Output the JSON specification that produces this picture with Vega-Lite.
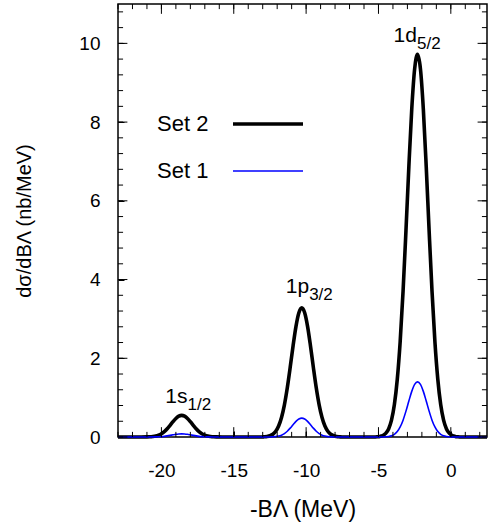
{
  "$schema": "https://vega.github.io/schema/vega-lite/v6.json",
  "width": 369,
  "height": 433,
  "autosize": "none",
  "padding": {"left": 118, "top": 4, "right": 1, "bottom": 89},
  "background": "white",
  "config": {
    "view": {"stroke": "black", "strokeWidth": 1.5},
    "font": "Liberation Sans",
    "axis": {"labelFont": "Liberation Sans", "titleFont": "Liberation Sans", "labelColor": "black", "titleColor": "black", "labelFontSize": 19, "titleFontSize": 20, "titleFontWeight": "normal", "grid": false},
    "legend": {"labelFont": "Liberation Sans", "labelFontSize": 22, "labelColor": "black"}
  },
  "datasets": {
    "curves": [
      {"x": -23, "y": 0, "s": "Set 2"}, {"x": -21.4, "y": 0, "s": "Set 2"},
      {"x": -21.0, "y": 0.002, "s": "Set 2"}, {"x": -20.8, "y": 0.005, "s": "Set 2"}, {"x": -20.6, "y": 0.012, "s": "Set 2"}, {"x": -20.4, "y": 0.024, "s": "Set 2"}, {"x": -20.2, "y": 0.047, "s": "Set 2"}, {"x": -20.0, "y": 0.083, "s": "Set 2"}, {"x": -19.8, "y": 0.137, "s": "Set 2"}, {"x": -19.6, "y": 0.21, "s": "Set 2"}, {"x": -19.4, "y": 0.297, "s": "Set 2"}, {"x": -19.2, "y": 0.389, "s": "Set 2"}, {"x": -19.0, "y": 0.471, "s": "Set 2"}, {"x": -18.8, "y": 0.529, "s": "Set 2"}, {"x": -18.6, "y": 0.55, "s": "Set 2"}, {"x": -18.4, "y": 0.529, "s": "Set 2"}, {"x": -18.2, "y": 0.471, "s": "Set 2"}, {"x": -18.0, "y": 0.389, "s": "Set 2"}, {"x": -17.8, "y": 0.297, "s": "Set 2"}, {"x": -17.6, "y": 0.21, "s": "Set 2"}, {"x": -17.4, "y": 0.137, "s": "Set 2"}, {"x": -17.2, "y": 0.083, "s": "Set 2"}, {"x": -17.0, "y": 0.047, "s": "Set 2"}, {"x": -16.8, "y": 0.024, "s": "Set 2"}, {"x": -16.6, "y": 0.012, "s": "Set 2"}, {"x": -16.4, "y": 0.005, "s": "Set 2"}, {"x": -16.2, "y": 0.002, "s": "Set 2"}, {"x": -15.8, "y": 0, "s": "Set 2"},
      {"x": -13.1, "y": 0, "s": "Set 2"}, {"x": -12.9, "y": 0.005, "s": "Set 2"}, {"x": -12.7, "y": 0.013, "s": "Set 2"}, {"x": -12.5, "y": 0.031, "s": "Set 2"}, {"x": -12.3, "y": 0.069, "s": "Set 2"}, {"x": -12.1, "y": 0.144, "s": "Set 2"}, {"x": -11.9, "y": 0.278, "s": "Set 2"}, {"x": -11.7, "y": 0.495, "s": "Set 2"}, {"x": -11.5, "y": 0.818, "s": "Set 2"}, {"x": -11.3, "y": 1.25, "s": "Set 2"}, {"x": -11.1, "y": 1.769, "s": "Set 2"}, {"x": -10.9, "y": 2.318, "s": "Set 2"}, {"x": -10.7, "y": 2.811, "s": "Set 2"}, {"x": -10.5, "y": 3.156, "s": "Set 2"}, {"x": -10.3, "y": 3.28, "s": "Set 2"}, {"x": -10.1, "y": 3.156, "s": "Set 2"}, {"x": -9.9, "y": 2.811, "s": "Set 2"}, {"x": -9.7, "y": 2.318, "s": "Set 2"}, {"x": -9.5, "y": 1.769, "s": "Set 2"}, {"x": -9.3, "y": 1.25, "s": "Set 2"}, {"x": -9.1, "y": 0.818, "s": "Set 2"}, {"x": -8.9, "y": 0.495, "s": "Set 2"}, {"x": -8.7, "y": 0.278, "s": "Set 2"}, {"x": -8.5, "y": 0.144, "s": "Set 2"}, {"x": -8.3, "y": 0.069, "s": "Set 2"}, {"x": -8.1, "y": 0.031, "s": "Set 2"}, {"x": -7.9, "y": 0.013, "s": "Set 2"}, {"x": -7.7, "y": 0.005, "s": "Set 2"}, {"x": -7.5, "y": 0, "s": "Set 2"},
      {"x": -5.3, "y": 0, "s": "Set 2"}, {"x": -5.1, "y": 0.005, "s": "Set 2"}, {"x": -4.9, "y": 0.015, "s": "Set 2"}, {"x": -4.7, "y": 0.038, "s": "Set 2"}, {"x": -4.5, "y": 0.091, "s": "Set 2"}, {"x": -4.3, "y": 0.205, "s": "Set 2"}, {"x": -4.1, "y": 0.427, "s": "Set 2"}, {"x": -3.9, "y": 0.823, "s": "Set 2"}, {"x": -3.7, "y": 1.468, "s": "Set 2"}, {"x": -3.5, "y": 2.424, "s": "Set 2"}, {"x": -3.3, "y": 3.705, "s": "Set 2"}, {"x": -3.1, "y": 5.243, "s": "Set 2"}, {"x": -2.9, "y": 6.869, "s": "Set 2"}, {"x": -2.7, "y": 8.33, "s": "Set 2"}, {"x": -2.5, "y": 9.352, "s": "Set 2"}, {"x": -2.3, "y": 9.72, "s": "Set 2"}, {"x": -2.1, "y": 9.352, "s": "Set 2"}, {"x": -1.9, "y": 8.33, "s": "Set 2"}, {"x": -1.7, "y": 6.869, "s": "Set 2"}, {"x": -1.5, "y": 5.243, "s": "Set 2"}, {"x": -1.3, "y": 3.705, "s": "Set 2"}, {"x": -1.1, "y": 2.424, "s": "Set 2"}, {"x": -0.9, "y": 1.468, "s": "Set 2"}, {"x": -0.7, "y": 0.823, "s": "Set 2"}, {"x": -0.5, "y": 0.427, "s": "Set 2"}, {"x": -0.3, "y": 0.205, "s": "Set 2"}, {"x": -0.1, "y": 0.091, "s": "Set 2"}, {"x": 0.1, "y": 0.038, "s": "Set 2"}, {"x": 0.3, "y": 0.015, "s": "Set 2"}, {"x": 0.5, "y": 0.005, "s": "Set 2"}, {"x": 0.7, "y": 0, "s": "Set 2"}, {"x": 2.5, "y": 0, "s": "Set 2"},
      {"x": -23, "y": 0, "s": "Set 1"}, {"x": -21.0, "y": 0, "s": "Set 1"},
      {"x": -20.4, "y": 0.002, "s": "Set 1"}, {"x": -20.2, "y": 0.005, "s": "Set 1"}, {"x": -20.0, "y": 0.01, "s": "Set 1"}, {"x": -19.8, "y": 0.017, "s": "Set 1"}, {"x": -19.6, "y": 0.028, "s": "Set 1"}, {"x": -19.4, "y": 0.041, "s": "Set 1"}, {"x": -19.2, "y": 0.055, "s": "Set 1"}, {"x": -19.0, "y": 0.068, "s": "Set 1"}, {"x": -18.8, "y": 0.077, "s": "Set 1"}, {"x": -18.6, "y": 0.08, "s": "Set 1"}, {"x": -18.4, "y": 0.077, "s": "Set 1"}, {"x": -18.2, "y": 0.068, "s": "Set 1"}, {"x": -18.0, "y": 0.055, "s": "Set 1"}, {"x": -17.8, "y": 0.041, "s": "Set 1"}, {"x": -17.6, "y": 0.028, "s": "Set 1"}, {"x": -17.4, "y": 0.017, "s": "Set 1"}, {"x": -17.2, "y": 0.01, "s": "Set 1"}, {"x": -17.0, "y": 0.005, "s": "Set 1"}, {"x": -16.8, "y": 0.002, "s": "Set 1"}, {"x": -16.4, "y": 0, "s": "Set 1"},
      {"x": -12.5, "y": 0, "s": "Set 1"}, {"x": -12.3, "y": 0.004, "s": "Set 1"}, {"x": -12.1, "y": 0.01, "s": "Set 1"}, {"x": -11.9, "y": 0.023, "s": "Set 1"}, {"x": -11.7, "y": 0.047, "s": "Set 1"}, {"x": -11.5, "y": 0.087, "s": "Set 1"}, {"x": -11.3, "y": 0.147, "s": "Set 1"}, {"x": -11.1, "y": 0.225, "s": "Set 1"}, {"x": -10.9, "y": 0.313, "s": "Set 1"}, {"x": -10.7, "y": 0.397, "s": "Set 1"}, {"x": -10.5, "y": 0.458, "s": "Set 1"}, {"x": -10.3, "y": 0.48, "s": "Set 1"}, {"x": -10.1, "y": 0.458, "s": "Set 1"}, {"x": -9.9, "y": 0.397, "s": "Set 1"}, {"x": -9.7, "y": 0.313, "s": "Set 1"}, {"x": -9.5, "y": 0.225, "s": "Set 1"}, {"x": -9.3, "y": 0.147, "s": "Set 1"}, {"x": -9.1, "y": 0.087, "s": "Set 1"}, {"x": -8.9, "y": 0.047, "s": "Set 1"}, {"x": -8.7, "y": 0.023, "s": "Set 1"}, {"x": -8.5, "y": 0.01, "s": "Set 1"}, {"x": -8.3, "y": 0.004, "s": "Set 1"}, {"x": -8.1, "y": 0, "s": "Set 1"},
      {"x": -4.7, "y": 0, "s": "Set 1"}, {"x": -4.5, "y": 0.005, "s": "Set 1"}, {"x": -4.3, "y": 0.012, "s": "Set 1"}, {"x": -4.1, "y": 0.03, "s": "Set 1"}, {"x": -3.9, "y": 0.067, "s": "Set 1"}, {"x": -3.7, "y": 0.137, "s": "Set 1"}, {"x": -3.5, "y": 0.255, "s": "Set 1"}, {"x": -3.3, "y": 0.428, "s": "Set 1"}, {"x": -3.1, "y": 0.657, "s": "Set 1"}, {"x": -2.9, "y": 0.914, "s": "Set 1"}, {"x": -2.7, "y": 1.159, "s": "Set 1"}, {"x": -2.5, "y": 1.336, "s": "Set 1"}, {"x": -2.3, "y": 1.4, "s": "Set 1"}, {"x": -2.1, "y": 1.336, "s": "Set 1"}, {"x": -1.9, "y": 1.159, "s": "Set 1"}, {"x": -1.7, "y": 0.914, "s": "Set 1"}, {"x": -1.5, "y": 0.657, "s": "Set 1"}, {"x": -1.3, "y": 0.428, "s": "Set 1"}, {"x": -1.1, "y": 0.255, "s": "Set 1"}, {"x": -0.9, "y": 0.137, "s": "Set 1"}, {"x": -0.7, "y": 0.067, "s": "Set 1"}, {"x": -0.5, "y": 0.03, "s": "Set 1"}, {"x": -0.3, "y": 0.012, "s": "Set 1"}, {"x": -0.1, "y": 0.005, "s": "Set 1"}, {"x": 0.1, "y": 0, "s": "Set 1"}, {"x": 2.5, "y": 0, "s": "Set 1"}
    ],
    "labels": [
      {"x": -2.34, "y": 10.03, "main": "1d", "sub": "5/2"},
      {"x": -9.79, "y": 3.65, "main": "1p", "sub": "3/2"},
      {"x": -18.2, "y": 0.86, "main": "1s", "sub": "1/2"}
    ],
    "xt": [{"v": -23}, {"v": -22}, {"v": -21}, {"v": -20}, {"v": -19}, {"v": -18}, {"v": -17}, {"v": -16}, {"v": -15}, {"v": -14}, {"v": -13}, {"v": -12}, {"v": -11}, {"v": -10}, {"v": -9}, {"v": -8}, {"v": -7}, {"v": -6}, {"v": -5}, {"v": -4}, {"v": -3}, {"v": -2}, {"v": -1}, {"v": 0}, {"v": 1}, {"v": 2}],
    "yt": [{"v": 0}, {"v": 0.4}, {"v": 0.8}, {"v": 1.2}, {"v": 1.6}, {"v": 2}, {"v": 2.4}, {"v": 2.8}, {"v": 3.2}, {"v": 3.6}, {"v": 4}, {"v": 4.4}, {"v": 4.8}, {"v": 5.2}, {"v": 5.6}, {"v": 6}, {"v": 6.4}, {"v": 6.8}, {"v": 7.2}, {"v": 7.6}, {"v": 8}, {"v": 8.4}, {"v": 8.8}, {"v": 9.2}, {"v": 9.6}, {"v": 10}, {"v": 10.4}, {"v": 10.8}]
  },
  "layer": [
    {
      "encoding": {
        "x": {"field": "x", "type": "quantitative", "scale": {"domain": [-23, 2.5], "nice": false, "zero": false},
          "axis": {"orient": "bottom", "title": "-BΛ (MeV)", "titleFontSize": 23,
            "values": [-20, -15, -10, -5, 0],
            "labelExpr": "'' + datum.value", "labelOverlap": false,
            "domain": false, "tickColor": "black", "tickSize": 6, "offset": -6, "labelPadding": 24, "titlePadding": 18}},
        "y": {"field": "y", "type": "quantitative", "scale": {"domain": [0, 11], "nice": false},
          "axis": {"orient": "left", "title": "dσ/dBΛ (nb/MeV)",
            "values": [0, 2, 4, 6, 8, 10],
            "labelExpr": "'' + datum.value", "labelOverlap": false,
            "domain": false, "tickColor": "black", "tickSize": 6, "offset": -6, "labelPadding": 18, "titlePadding": 44}}
      },
      "layer": [
        {
          "data": {"name": "curves"},
          "mark": {"type": "line", "interpolate": "monotone"},
          "encoding": {
            "color": {"field": "s", "type": "nominal", "scale": {"domain": ["Set 2", "Set 1"], "range": ["black", "#0000ff"]},
              "legend": {"orient": "none", "legendX": 39, "legendY": 83, "title": null, "symbolType": "stroke", "symbolSize": 4900, "symbolOffset": 74, "labelOffset": -148, "rowPadding": -5, "padding": 0}},
            "strokeWidth": {"field": "s", "type": "nominal", "scale": {"domain": ["Set 2", "Set 1"], "range": [3.6, 1.6]}, "legend": null}
          }
        },
        {
          "data": {"name": "labels"},
          "mark": {"type": "text", "align": "right", "baseline": "alphabetic", "fontSize": 21, "font": "Liberation Sans", "color": "black"},
          "encoding": {"text": {"field": "main"}}
        },
        {
          "data": {"name": "labels"},
          "mark": {"type": "text", "align": "left", "baseline": "alphabetic", "fontSize": 17, "dy": 7, "font": "Liberation Sans", "color": "black"},
          "encoding": {"text": {"field": "sub"}}
        }
      ]
    },
    {
      "data": {"name": "xt"},
      "mark": {"type": "rule", "color": "black", "strokeWidth": 1},
      "encoding": {
        "x": {"field": "v", "type": "quantitative", "scale": {"domain": [-23, 2.5], "nice": false, "zero": false}, "axis": null},
        "y": {"datum": 0, "type": "quantitative", "scale": {"domain": [0, 11], "nice": false}, "axis": null},
        "y2": {"datum": 0.13}
      }
    },
    {
      "data": {"name": "xt"},
      "mark": {"type": "rule", "color": "black", "strokeWidth": 1},
      "encoding": {
        "x": {"field": "v", "type": "quantitative", "scale": {"domain": [-23, 2.5], "nice": false, "zero": false}, "axis": null},
        "y": {"datum": 11, "type": "quantitative", "scale": {"domain": [0, 11], "nice": false}, "axis": null},
        "y2": {"datum": 10.87}
      }
    },
    {
      "data": {"name": "xt"},
      "transform": [{"filter": "datum.v % 5 === 0"}],
      "mark": {"type": "rule", "color": "black", "strokeWidth": 1},
      "encoding": {
        "x": {"field": "v", "type": "quantitative", "scale": {"domain": [-23, 2.5], "nice": false, "zero": false}, "axis": null},
        "y": {"datum": 0, "type": "quantitative", "scale": {"domain": [0, 11], "nice": false}, "axis": null},
        "y2": {"datum": 0.25}
      }
    },
    {
      "data": {"name": "xt"},
      "transform": [{"filter": "datum.v % 5 === 0"}],
      "mark": {"type": "rule", "color": "black", "strokeWidth": 1},
      "encoding": {
        "x": {"field": "v", "type": "quantitative", "scale": {"domain": [-23, 2.5], "nice": false, "zero": false}, "axis": null},
        "y": {"datum": 11, "type": "quantitative", "scale": {"domain": [0, 11], "nice": false}, "axis": null},
        "y2": {"datum": 10.75}
      }
    },
    {
      "data": {"name": "yt"},
      "mark": {"type": "rule", "color": "black", "strokeWidth": 1},
      "encoding": {
        "y": {"field": "v", "type": "quantitative", "scale": {"domain": [0, 11], "nice": false}, "axis": null},
        "x": {"datum": -23, "type": "quantitative", "scale": {"domain": [-23, 2.5], "nice": false, "zero": false}, "axis": null},
        "x2": {"datum": -22.65}
      }
    },
    {
      "data": {"name": "yt"},
      "mark": {"type": "rule", "color": "black", "strokeWidth": 1},
      "encoding": {
        "y": {"field": "v", "type": "quantitative", "scale": {"domain": [0, 11], "nice": false}, "axis": null},
        "x": {"datum": 2.5, "type": "quantitative", "scale": {"domain": [-23, 2.5], "nice": false, "zero": false}, "axis": null},
        "x2": {"datum": 2.15}
      }
    },
    {
      "data": {"name": "yt"},
      "transform": [{"filter": "datum.v % 2 === 0"}],
      "mark": {"type": "rule", "color": "black", "strokeWidth": 1},
      "encoding": {
        "y": {"field": "v", "type": "quantitative", "scale": {"domain": [0, 11], "nice": false}, "axis": null},
        "x": {"datum": -23, "type": "quantitative", "scale": {"domain": [-23, 2.5], "nice": false, "zero": false}, "axis": null},
        "x2": {"datum": -22.35}
      }
    },
    {
      "data": {"name": "yt"},
      "transform": [{"filter": "datum.v % 2 === 0"}],
      "mark": {"type": "rule", "color": "black", "strokeWidth": 1},
      "encoding": {
        "y": {"field": "v", "type": "quantitative", "scale": {"domain": [0, 11], "nice": false}, "axis": null},
        "x": {"datum": 2.5, "type": "quantitative", "scale": {"domain": [-23, 2.5], "nice": false, "zero": false}, "axis": null},
        "x2": {"datum": 1.85}
      }
    }
  ],
  "resolve": {"axis": {"x": "independent", "y": "independent"}}
}
